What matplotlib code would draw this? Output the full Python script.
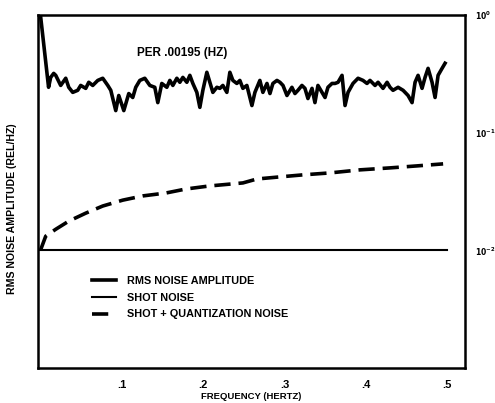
import matplotlib
matplotlib.use("Agg")
import matplotlib.pyplot as plt
from matplotlib.ticker import FixedLocator, NullLocator

plt.rcParams['font.family'] = ['Liberation Sans', 'DejaVu Sans']

# RMS noise amplitude
freq_rms = [0.000, 0.010, 0.0126, 0.0163, 0.0188, 0.0249, 0.0311, 0.0348, 0.0397, 0.0458,
            0.0495, 0.0557, 0.0594, 0.0643, 0.0705, 0.0766, 0.0828, 0.0865, 0.0926, 0.0963,
            0.1025, 0.1086, 0.1135, 0.1172, 0.1222, 0.1283, 0.1345, 0.1406, 0.1443, 0.1492,
            0.1554, 0.1591, 0.1628, 0.1677, 0.1714, 0.1751, 0.1800, 0.1837, 0.1874, 0.1923,
            0.1960, 0.1997, 0.2046, 0.2083, 0.2120, 0.2169, 0.2206, 0.2243, 0.2292, 0.2329,
            0.2366, 0.2415, 0.2452, 0.2489, 0.2538, 0.2600, 0.2637, 0.2698, 0.2735, 0.2785,
            0.2822, 0.2858, 0.2908, 0.2945, 0.2982, 0.3031, 0.3092, 0.3129, 0.3166, 0.3215,
            0.3252, 0.3289, 0.3339, 0.3375, 0.3412, 0.3462, 0.3499, 0.3535, 0.3585, 0.3622,
            0.3659, 0.3708, 0.3745, 0.3782, 0.3843, 0.3905, 0.3966, 0.4015, 0.4052, 0.4114,
            0.4151, 0.4212, 0.4262, 0.4298, 0.4335, 0.4397, 0.4459, 0.4520, 0.4569, 0.4606,
            0.4643, 0.4692, 0.4729, 0.4766, 0.4815, 0.4852, 0.4889, 0.4938, 0.4975]
amp_rms = [1.000, 0.243, 0.295, 0.319, 0.307, 0.252, 0.290, 0.243, 0.220, 0.229,
           0.252, 0.238, 0.268, 0.252, 0.278, 0.290, 0.252, 0.229, 0.154, 0.207,
           0.154, 0.215, 0.199, 0.243, 0.278, 0.290, 0.252, 0.243, 0.180, 0.262,
           0.243, 0.278, 0.252, 0.290, 0.268, 0.295, 0.268, 0.307, 0.262, 0.220,
           0.164, 0.229, 0.326, 0.268, 0.220, 0.243, 0.238, 0.252, 0.220, 0.326,
           0.278, 0.262, 0.278, 0.238, 0.252, 0.170, 0.220, 0.278, 0.220, 0.262,
           0.215, 0.262, 0.278, 0.268, 0.252, 0.207, 0.243, 0.215, 0.229, 0.252,
           0.238, 0.195, 0.238, 0.180, 0.252, 0.220, 0.199, 0.243, 0.262, 0.262,
           0.268, 0.307, 0.170, 0.220, 0.262, 0.290, 0.278, 0.262, 0.278, 0.252,
           0.268, 0.238, 0.268, 0.243, 0.229, 0.243, 0.229, 0.207, 0.180, 0.268,
           0.307, 0.238, 0.295, 0.352, 0.268, 0.199, 0.307, 0.352, 0.389]

# Shot noise
freq_shot = [0.0, 0.5]
amp_shot = [0.01, 0.01]

# Shot + quantization noise
freq_sq = [0.0, 0.0065, 0.0188, 0.0348, 0.0557, 0.0766, 0.1012, 0.1258, 0.1542, 0.1788,
           0.2071, 0.2489, 0.2662, 0.2945, 0.3228, 0.3560, 0.3929, 0.4298, 0.4631, 0.4951]
amp_sq = [0.0100, 0.0132, 0.0151, 0.0177, 0.0207, 0.0238, 0.0267, 0.0290, 0.0307, 0.0332,
          0.0352, 0.0374, 0.0404, 0.0421, 0.0438, 0.0455, 0.0483, 0.0502, 0.0522, 0.0543]

xticks = [0.1, 0.2, 0.3, 0.4, 0.5]
xticklabels = ['.1', '.2', '.3', '.4', '.5']
yticks = [1e0, 1e-1, 1e-2]
yticklabels = ['$\\mathbf{10^{0}}$', '$\\mathbf{10^{-1}}$', '$\\mathbf{10^{-2}}$']

labels = ['RMS NOISE AMPLITUDE', 'SHOT NOISE', 'SHOT + QUANTIZATION NOISE']

fig = plt.figure(figsize=(4.95, 4.03), dpi=100)
ax = fig.add_axes([38/495, 1-368/403, 427/495, 353/403])

ax.plot(freq_rms, amp_rms, color='black', lw=2.6, label=labels[0])
ax.plot(freq_shot, amp_shot, color='black', lw=1.5, label=labels[1])
ax.plot(freq_sq, amp_sq, color='black', lw=2.6, ls=(0, (4.5, 2.2)), label=labels[2])

ax.set_yscale('log')
ax.set_xlim(-0.003, 0.522)
ax.set_ylim(1e-3, 1e0)

ax.xaxis.set_major_locator(FixedLocator(xticks))
ax.set_xticklabels(xticklabels, fontsize=8, fontweight='bold')
ax.yaxis.set_major_locator(FixedLocator(yticks))
ax.yaxis.set_minor_locator(NullLocator())
ax.set_yticklabels(yticklabels, fontsize=5.5)
ax.yaxis.tick_right()
ax.tick_params(axis='both', length=0)
ax.tick_params(axis='x', pad=9)
ax.tick_params(axis='y', pad=7)

for s in ax.spines.values():
    s.set_linewidth(1.8)

ax.set_xlabel('FREQUENCY (HERTZ)', fontsize=6.8, fontweight='bold', labelpad=1)
fig.text(12/495, 1-209/403, 'RMS NOISE AMPLITUDE (REL/HZ)', rotation=90,
         ha='center', va='center', fontsize=7.6, fontweight='bold')

ax.text((137-38)/427, (368-53)/353, 'PER .00195 (HZ)', transform=ax.transAxes,
        ha='left', va='center', fontsize=8.5, fontweight='bold')

ax.legend(loc='upper left', bbox_to_anchor=((92-38)/427, (368-276)/353),
          frameon=False, prop={'weight': 'bold', 'size': 7.8},
          handlelength=2.2, handletextpad=1.0, labelspacing=0.62,
          borderpad=0, borderaxespad=0)

fig.savefig('out.png', dpi=100)
